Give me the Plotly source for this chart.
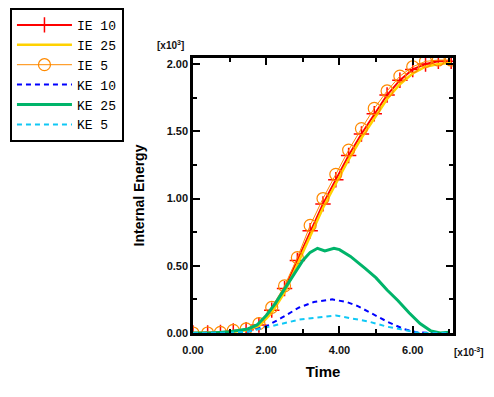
import plotly.graph_objects as go

# ---- data (time in x10^-3, energy in x10^3) ----
t_ie = [0.0, 0.4, 0.75, 1.1, 1.45, 1.8, 2.15, 2.5, 2.85, 3.2, 3.55, 3.9, 4.25,
        4.6, 4.95, 5.3, 5.65, 6.0, 6.35, 6.7, 7.05]
ie_10 = [0.0, 0.0, 0.005, 0.015, 0.025, 0.06, 0.17, 0.33, 0.54, 0.76, 0.96, 1.14,
         1.32, 1.48, 1.63, 1.77, 1.88, 1.96, 2.00, 2.02, 2.02]
ie_25 = [0.0, 0.0, 0.003, 0.01, 0.02, 0.05, 0.15, 0.30, 0.51, 0.72, 0.93, 1.11,
         1.29, 1.45, 1.60, 1.74, 1.85, 1.93, 1.98, 2.00, 2.01]
ie_5 = [0.0, 0.0, 0.005, 0.02, 0.03, 0.07, 0.19, 0.35, 0.56, 0.80, 1.00, 1.18,
        1.36, 1.52, 1.67, 1.80, 1.91, 1.98, 2.02, 2.03, 2.03]

t_ke25 = [0.0, 0.5, 1.0, 1.5, 1.75, 2.0, 2.25, 2.5, 2.75, 3.0, 3.2, 3.4, 3.6,
          3.85, 4.0, 4.3, 4.7, 5.0, 5.3, 5.6, 5.9, 6.2, 6.5, 6.75, 7.0]
ke_25 = [0.0, 0.0, 0.01, 0.03, 0.06, 0.13, 0.22, 0.33, 0.44, 0.54, 0.60, 0.63,
         0.61, 0.63, 0.62, 0.57, 0.48, 0.41, 0.32, 0.24, 0.15, 0.07, 0.015, 0.0, 0.005]

t_ke10 = [0.0, 0.5, 1.0, 1.5, 2.0, 2.4, 2.9, 3.3, 3.8, 4.2, 4.5, 4.85, 5.3,
          5.75, 6.1, 6.5, 7.0]
ke_10 = [0.0, 0.0, 0.003, 0.01, 0.05, 0.11, 0.19, 0.23, 0.25, 0.23, 0.20, 0.15,
         0.085, 0.03, 0.005, 0.0, 0.0]

t_ke5 = [0.0, 0.5, 1.0, 1.5, 2.0, 2.6, 2.9, 3.3, 3.9, 4.3, 4.8, 5.3, 5.75,
         6.2, 7.0]
ke_5 = [0.0, 0.0, 0.002, 0.01, 0.04, 0.08, 0.10, 0.11, 0.13, 0.11, 0.085, 0.047,
        0.022, 0.0, 0.0]

x_ticks = [0, 2, 4, 6]
x_labels = ["0.00", "2.00", "4.00", "6.00"]
y_ticks = [0, 0.5, 1.0, 1.5, 2.0]
y_labels = ["0.00", "0.50", "1.00", "1.50", "2.00"]

fig = go.Figure()
fig.add_trace(go.Scatter(x=t_ie, y=ie_10, name="IE 10", mode="lines+markers",
                         line=dict(color="#ff0000", width=2),
                         marker=dict(symbol="cross-thin", size=11,
                                     line=dict(color="#ff0000", width=1.5))))
fig.add_trace(go.Scatter(x=t_ie, y=ie_25, name="IE 25", mode="lines",
                         line=dict(color="#ffd200", width=2.5)))
fig.add_trace(go.Scatter(x=t_ie, y=ie_5, name="IE 5", mode="lines+markers",
                         line=dict(color="#ff8a00", width=1),
                         marker=dict(symbol="circle-open", size=12,
                                     line=dict(color="#ff8a00", width=1.2))))
fig.add_trace(go.Scatter(x=t_ke10, y=ke_10, name="KE 10", mode="lines",
                         line=dict(color="#0000ff", width=2, dash="5px,4px")))
fig.add_trace(go.Scatter(x=t_ke25, y=ke_25, name="KE 25", mode="lines",
                         line=dict(color="#00b46a", width=3)))
fig.add_trace(go.Scatter(x=t_ke5, y=ke_5, name="KE 5", mode="lines",
                         line=dict(color="#10c8f5", width=2, dash="5px,4px")))

tickfont = dict(family="Liberation Sans", size=11, color="#111", weight="bold")

# the page body has an 8px default margin, so the figure is 8px smaller
fig.update_layout(
    width=486, height=389,
    margin=dict(l=185, r=41, t=50, b=64, autoexpand=False),
    paper_bgcolor="white", plot_bgcolor="white",
    showlegend=True,
    legend=dict(x=-0.704, y=1.182, xanchor="left", yanchor="top",
                bordercolor="black", borderwidth=2, bgcolor="white",
                font=dict(family="Liberation Mono", size=13, color="black"),
                itemwidth=55, tracegroupgap=0),
    xaxis=dict(range=[0, 7.1], tickvals=x_ticks, ticktext=x_labels,
               ticks="inside", ticklen=7, tickwidth=2, tickcolor="black",
               showline=True, linewidth=2.5, linecolor="black", mirror="ticks",
               showgrid=False, zeroline=False, tickfont=tickfont,
               ticklabelstandoff=5,
               minor=dict(dtick=1, ticks="inside", ticklen=4, tickwidth=2,
                          tickcolor="black", showgrid=False),
               title=dict(text="Time", standoff=12,
                          font=dict(family="Liberation Sans", size=15,
                                    color="black", weight="bold"))),
    yaxis=dict(range=[0, 2.045], tickvals=y_ticks, ticktext=y_labels,
               ticks="inside", ticklen=7, tickwidth=2, tickcolor="black",
               showline=True, linewidth=2.5, linecolor="black", mirror="ticks",
               showgrid=False, zeroline=False, tickfont=tickfont,
               minor=dict(dtick=0.25, ticks="inside", ticklen=4, tickwidth=2,
                          tickcolor="black", showgrid=False),
               title=dict(text="Internal Energy", standoff=19,
                          font=dict(family="Liberation Sans", size=14,
                                    color="black", weight="bold"))),
)

fig.add_annotation(text="[x10<sup>3</sup>]", xref="paper", yref="paper",
                   x=-0.088, y=1.047, xanchor="center", yanchor="middle",
                   showarrow=False,
                   font=dict(family="Liberation Sans", size=10, color="#111",
                             weight="bold"))
fig.add_annotation(text="[x10<sup>-3</sup>]", xref="paper", yref="paper",
                   x=1.0615, y=-0.069, xanchor="center", yanchor="middle",
                   showarrow=False,
                   font=dict(family="Liberation Sans", size=10, color="#111",
                             weight="bold"))

fig.write_html("out.html")
